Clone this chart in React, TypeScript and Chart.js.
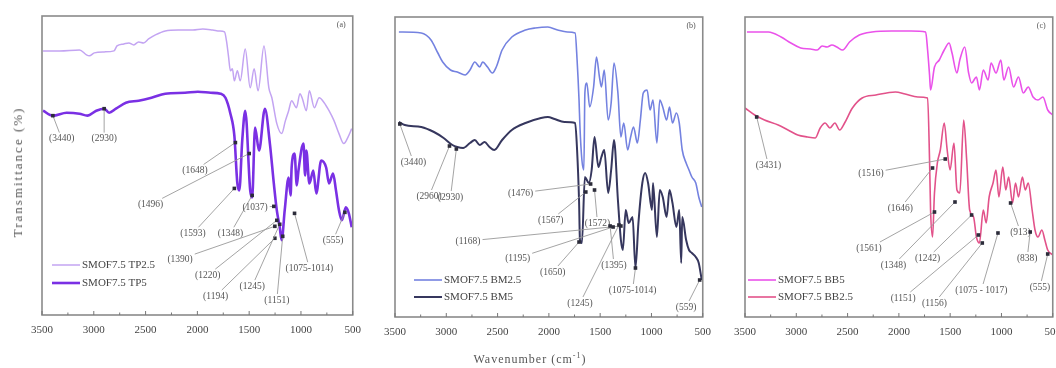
import React, { useEffect, useRef } from "react";
import { Chart, registerables } from "chart.js";
Chart.register(...registerables);

// ---------- DATA ----------
const xTickValues = [3500, 3000, 2500, 2000, 1500, 1000, 500];
const xTickLabels = ["3500", "3000", "2500", "2000", "1500", "1000", "500"];

// Panel (a) — [wavenumber, relative transmittance]
const aTP25 = [[3490,265],[3329,265],[3138,266],[3071,261],[3043,260],[2995,263],[2900,264],[2805,265],[2776,270],[2710,272],[2662,273],[2614,271],[2567,274],[2519,273],[2471,277],[2405,281],[2310,285],[2186,286],[2043,286],[1948,287],[1852,286],[1786,285],[1738,284],[1719,275],[1700,260],[1681,245],[1662,247],[1643,235],[1614,245],[1586,235],[1538,267],[1490,228],[1452,247],[1414,225],[1357,270],[1310,228],[1281,218],[1233,192],[1186,182],[1150,195],[1119,205],[1090,215],[1043,208],[1010,222],[986,217],[948,205],[919,225],[871,208],[824,218],[776,213],[729,205],[681,195],[633,182],[586,172],[548,178],[510,187]];
const aTP5 = [[3490,205],[3395,200],[3262,203],[3138,202],[3062,200],[2976,205],[2900,207],[2852,203],[2786,207],[2690,213],[2567,215],[2443,218],[2310,222],[2119,223],[1995,224],[1871,223],[1776,222],[1729,218],[1681,202],[1643,180],[1614,132],[1595,125],[1567,175],[1538,205],[1490,125],[1471,118],[1443,188],[1405,165],[1348,207],[1300,172],[1262,132],[1233,105],[1205,88],[1186,75],[1157,105],[1119,138],[1100,120],[1090,148],[1062,162],[1040,130],[1024,145],[976,172],[960,140],[948,165],[919,132],[881,145],[852,122],[805,155],[757,148],[729,132],[690,142],[662,125],[633,105],[605,95],[567,108],[538,102],[510,88]];
// [text, labelWn, labelT, targetWn, targetT]
const aNotes = [["(3440)",3310,177,3395,200],["(2930)",2900,177,2900,207],["(1648)",2024,145,1633,173],["(1496)",2452,111,1500,162],["(1593)",2043,82,1643,127],["(1348)",1681,82,1471,120],["(1037)",1443,108,1262,109],["(1390)",2167,56,1252,89],["(1220)",1900,40,1233,95],["(1194)",1824,19,1252,77],["(1245)",1471,29,1205,91],["(1151)",1233,15,1176,79],["(1075-1014)",919,47,1062,102],["(555)",690,75,576,103]];

// Panel (b)
const bBM25 = [[3462,285],[3244,284],[3149,277],[3082,264],[3035,255],[2959,247],[2893,245],[2817,242],[2769,247],[2722,255],[2674,250],[2646,255],[2598,250],[2551,244],[2513,250],[2456,267],[2361,280],[2228,287],[2133,289],[2010,290],[1915,287],[1820,285],[1744,284],[1725,257],[1706,217],[1697,190],[1678,157],[1659,147],[1649,224],[1630,234],[1602,210],[1564,230],[1536,260],[1507,240],[1488,230],[1460,247],[1422,197],[1393,214],[1365,254],[1327,224],[1298,180],[1270,194],[1232,167],[1203,180],[1175,190],[1137,174],[1108,197],[1080,224],[1042,227],[1014,207],[985,217],[947,174],[919,217],[890,210],[852,197],[824,210],[795,194],[757,204],[729,194],[700,167],[662,154],[634,147],[606,140],[568,134],[539,120],[510,110]];
const bBM5 = [[3462,195],[3405,192],[3244,190],[3120,185],[3026,179],[2940,172],[2893,170],[2836,169],[2769,174],[2722,177],[2674,172],[2627,175],[2579,170],[2532,167],[2456,177],[2361,187],[2228,194],[2077,199],[2010,200],[1944,198],[1849,195],[1744,194],[1725,167],[1706,117],[1697,77],[1678,74],[1649,140],[1611,134],[1583,147],[1555,180],[1517,150],[1488,160],[1460,167],[1422,124],[1393,147],[1365,177],[1327,117],[1298,77],[1279,67],[1251,107],[1222,94],[1184,100],[1156,49],[1127,94],[1089,134],[1061,144],[1033,134],[995,107],[985,134],[947,80],[919,127],[890,120],[852,100],[824,127],[795,114],[757,90],[729,107],[710,54],[700,100],[662,77],[634,67],[606,64],[568,60],[539,54],[510,37]];
const bNotes = [["(3440)",3320,155,3453,193],["(2960)",3168,121,2969,171],["(2930)",2959,120,2902,168],["(1476)",2276,124,1593,133],["(1567)",1982,97,1640,125],["(1572)",1526,94,1555,127],["(1168)",2788,76,1298,91],["(1195)",2304,59,1374,90],["(1650)",1963,45,1706,75],["(1395)",1365,52,1403,91],["(1245)",1697,14,1317,92],["(1075-1014)",1184,27,1156,49],["(559)",663,10,530,37]];

// Panel (c)
const cBB5 = [[3481,285],[3272,285],[3148,280],[3053,274],[2957,269],[2862,268],[2796,267],[2748,271],[2700,270],[2653,272],[2605,270],[2548,267],[2481,275],[2386,282],[2262,285],[2072,286],[1882,286],[1739,285],[1720,267],[1701,242],[1691,227],[1653,250],[1606,257],[1558,267],[1510,274],[1482,264],[1434,244],[1406,257],[1358,270],[1320,244],[1291,234],[1244,240],[1215,227],[1177,247],[1130,237],[1101,254],[1053,244],[1006,257],[977,237],[930,250],[882,230],[834,240],[787,224],[739,230],[692,220],[644,217],[596,220],[549,207],[500,202]];
const cBB25 = [[3500,209],[3405,202],[3310,197],[3176,192],[3081,187],[2986,182],[2891,180],[2815,179],[2767,189],[2719,194],[2672,189],[2624,194],[2577,187],[2529,194],[2453,209],[2358,219],[2224,222],[2034,225],[1939,223],[1815,220],[1720,219],[1701,157],[1691,107],[1672,80],[1653,124],[1625,154],[1596,167],[1558,194],[1529,167],[1501,147],[1463,174],[1434,127],[1406,124],[1368,197],[1339,157],[1310,107],[1272,100],[1244,80],[1215,74],[1177,107],[1149,94],[1120,120],[1082,134],[1053,147],[1025,120],[987,150],[958,127],[930,140],[892,114],[863,134],[834,120],[796,140],[768,127],[739,134],[701,107],[673,87],[644,80],[606,87],[577,77],[549,67],[500,62]];
const cNotes = [["(3431)",3272,152,3386,200],["(1516)",2272,144,1548,158],["(1646)",1986,109,1672,149],["(1561)",2291,69,1653,105],["(1348)",2053,52,1453,115],["(1242)",1720,59,1291,102],["(1151)",1958,19,1225,82],["(1156)",1653,14,1187,74],["(1075 - 1017)",1196,27,1034,84],["(913)",815,85,911,114],["(838)",749,59,720,85],["(555)",625,30,549,63]];

// ---------- LAYOUT / STYLE ----------
const SERIF = "'Liberation Serif', 'Times New Roman', 'DejaVu Serif', serif";

const panels = [
  { key: "a", tag: "(a)", left: 0, width: 370, padL: 42, padR: 13, padT: 16, axisH: 53,
    series: [
      { label: "SMOF7.5 TP2.5", data: aTP25, color: "#c3a4f2", width: 1.5 },
      { label: "SMOF7.5 TP5", data: aTP5, color: "#7a30e4", width: 2.6 },
    ], notes: aNotes, legend: { dx: 10, dy: 50, gap: 18 } },
  { key: "b", tag: "(b)", left: 375, width: 345, padL: 18, padR: 11, padT: 17, axisH: 51,
    series: [
      { label: "SMOF7.5 BM2.5", data: bBM25, color: "#7482e0", width: 1.6 },
      { label: "SMOF7.5 BM5", data: bBM5, color: "#36375e", width: 2 },
    ], notes: bNotes, legend: { dx: 19, dy: 37, gap: 17 } },
  { key: "c", tag: "(c)", left: 725, width: 345, padL: 18, padR: 12, padT: 17, axisH: 51,
    series: [
      { label: "SMOF7.5 BB5", data: cBB5, color: "#ea52ea", width: 1.6 },
      { label: "SMOF7.5 BB2.5", data: cBB25, color: "#e2528a", width: 1.6 },
    ], notes: cNotes, legend: { dx: 3, dy: 37, gap: 17 } },
];

const decorPlugin = {
  id: "decor",
  afterDatasetsDraw(chart: any, _a: any, opts: any) {
    const { ctx, scales } = chart;
    const x = scales.x, y = scales.y;
    ctx.save();
    ctx.font = `9.5px ${SERIF}`;
    ctx.textAlign = "center";
    ctx.textBaseline = "middle";
    for (const [t, lwn, lt, twn, tt] of opts.notes) {
      const lx = x.getPixelForValue(lwn), ly = y.getPixelForValue(lt);
      const tx = x.getPixelForValue(twn), ty = y.getPixelForValue(tt);
      const w = ctx.measureText(t).width;
      const dx = tx - lx, dy = ty - ly;
      const s = Math.min((w / 2 + 2) / Math.max(Math.abs(dx), 1e-6), 6 / Math.max(Math.abs(dy), 1e-6));
      ctx.strokeStyle = "#9a9a9a";
      ctx.lineWidth = 0.9;
      ctx.beginPath();
      ctx.moveTo(lx + dx * s, ly + dy * s);
      ctx.lineTo(tx, ty);
      ctx.stroke();
      ctx.fillStyle = "#2c2c3a";
      ctx.fillRect(tx - 1.8, ty - 1.8, 3.6, 3.6);
      ctx.fillStyle = "#555";
      ctx.fillText(t, lx, ly);
    }
    ctx.restore();
  },
  afterDraw(chart: any, _a: any, opts: any) {
    const { ctx, chartArea: ca, scales } = chart;
    const x = scales.x;
    ctx.save();
    ctx.strokeStyle = "#8a8a8a";
    ctx.lineWidth = 1.6;
    ctx.strokeRect(ca.left, ca.top, ca.right - ca.left, ca.bottom - ca.top);
    ctx.lineWidth = 1;
    ctx.strokeStyle = "#777";
    for (let v = 500; v <= 3500; v += 250) {
      const px = x.getPixelForValue(v);
      const len = v % 500 === 0 ? 4 : 2.5;
      ctx.beginPath();
      ctx.moveTo(px, ca.bottom);
      ctx.lineTo(px, ca.bottom - len);
      ctx.stroke();
    }
    ctx.font = `8px ${SERIF}`;
    ctx.fillStyle = "#555";
    ctx.textAlign = "right";
    ctx.textBaseline = "middle";
    ctx.fillText(opts.tag, ca.right - 7, ca.top + 9);
    const lg = opts.legend;
    ctx.font = `11px ${SERIF}`;
    ctx.textAlign = "left";
    chart.data.datasets.forEach((ds: any, i: number) => {
      const yy = ca.bottom - lg.dy + i * lg.gap;
      const x0 = ca.left + lg.dx;
      ctx.strokeStyle = ds.borderColor;
      ctx.lineWidth = ds.borderWidth;
      ctx.beginPath();
      ctx.moveTo(x0, yy);
      ctx.lineTo(x0 + 28, yy);
      ctx.stroke();
      ctx.fillStyle = "#444";
      ctx.fillText(ds.label, x0 + 30, yy + 0.5);
    });
    ctx.restore();
  },
};

function Panel({ p }: { p: any }) {
  const ref = useRef<HTMLCanvasElement | null>(null);
  useEffect(() => {
    const chart = new Chart(ref.current as HTMLCanvasElement, {
      type: "line",
      data: {
        datasets: p.series.map((s: any) => ({
          label: s.label,
          data: s.data.map((d: number[]) => ({ x: d[0], y: d[1] })),
          borderColor: s.color,
          backgroundColor: s.color,
          borderWidth: s.width,
          pointRadius: 0,
          cubicInterpolationMode: "monotone",
          fill: false,
        })),
      },
      options: {
        responsive: false,
        animation: false,
        events: [],
        layout: { padding: { left: p.padL, right: p.padR, top: p.padT, bottom: 0 } },
        scales: {
          x: {
            type: "linear",
            reverse: true,
            min: 500,
            max: 3500,
            grid: { display: false, drawTicks: false },
            border: { display: false },
            afterBuildTicks: (s: any) => { s.ticks = xTickValues.map((v) => ({ value: v })); },
            afterFit: (s: any) => { s.height = p.axisH; },
            ticks: {
              autoSkip: false,
              maxRotation: 0,
              padding: 9,
              color: "#444",
              font: { family: SERIF, size: 11 },
              callback: (v: any) => xTickLabels[xTickValues.indexOf(Number(v))] ?? String(v),
            },
          },
          y: { display: false, min: 0, max: 300 },
        },
        plugins: {
          legend: { display: false },
          tooltip: { enabled: false },
          decor: { notes: p.notes, tag: p.tag, legend: p.legend },
        } as any,
      },
      plugins: [decorPlugin as any],
    });
    return () => chart.destroy();
  }, []);
  return (
    <div style={{ position: "absolute", left: p.left, top: 0, width: p.width, height: 368 }}>
      <canvas ref={ref} width={p.width} height={368} style={{ width: p.width, height: 368, display: "block" }} />
    </div>
  );
}

export default function App() {
  return (
    <div style={{ position: "absolute", left: 0, top: 0, width: 1056, height: 368, overflow: "hidden", background: "#fff" }}>
      {panels.map((p) => <Panel key={p.key} p={p} />)}
      <div style={{ position: "absolute", left: 18, top: 172, transform: "translate(-50%, -50%) rotate(-90deg)", whiteSpace: "nowrap", fontFamily: SERIF, fontSize: 13, letterSpacing: 2, color: "#555" }}>
        Transmittance (%)
      </div>
      <div style={{ position: "absolute", left: 530, top: 359, transform: "translate(-50%, -50%)", whiteSpace: "nowrap", fontFamily: SERIF, fontSize: 12, letterSpacing: 1, color: "#555" }}>
        Wavenumber (cm<sup style={{ fontSize: 8 }}>-1</sup>)
      </div>
    </div>
  );
}
